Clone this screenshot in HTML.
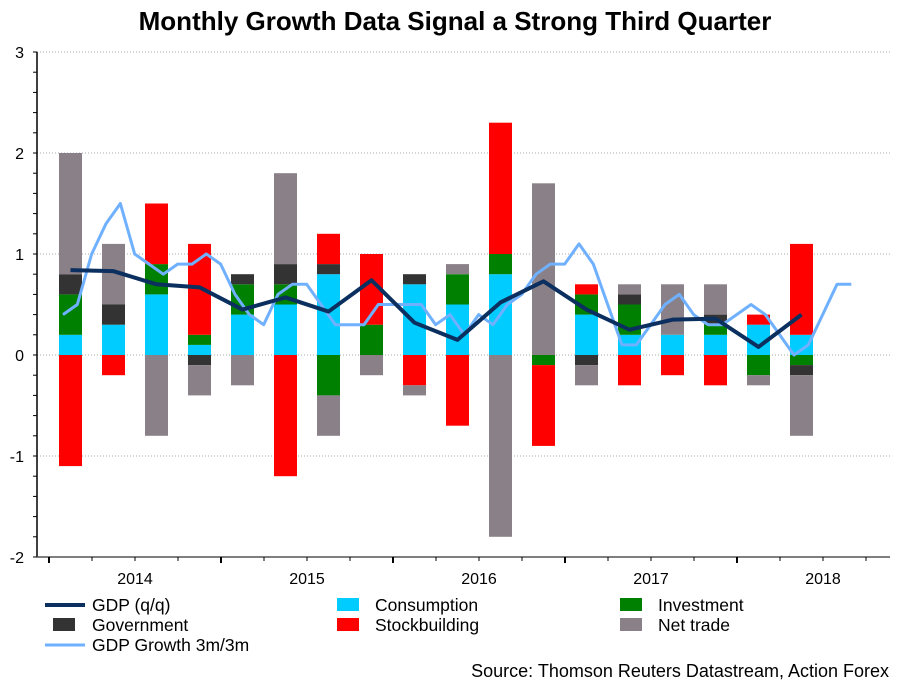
<!DOCTYPE html>
<html><head><meta charset="utf-8"><style>
body{margin:0;background:#fff;}
svg{display:block;font-family:"Liberation Sans",Arial,sans-serif;}
</style></head><body>
<svg id="chart" width="909" height="682" viewBox="0 0 909 682" xmlns="http://www.w3.org/2000/svg">
<text x="455" y="30" text-anchor="middle" font-size="26" font-weight="bold">Monthly Growth Data Signal a Strong Third Quarter</text>
<g id="grid"></g><g id="bars"></g><g id="lines"></g><g id="axes"></g>
<g font-size="17.5">
<line x1="45" y1="605" x2="85" y2="605" stroke="#0b2f5e" stroke-width="4"/>
<text x="92" y="611">GDP (q/q)</text>
<rect x="337" y="598" width="22" height="13" fill="#00ccff"/>
<text x="375" y="611">Consumption</text>
<rect x="620" y="598" width="22" height="13" fill="#008000"/>
<text x="658" y="611">Investment</text>
<rect x="53" y="618" width="22" height="13" fill="#333"/>
<text x="92" y="631">Government</text>
<rect x="337" y="618" width="22" height="13" fill="#ff0000"/>
<text x="375" y="631">Stockbuilding</text>
<rect x="620" y="618" width="22" height="13" fill="#8a8088"/>
<text x="658" y="631">Net trade</text>
<line x1="45" y1="645" x2="85" y2="645" stroke="#6fb0ff" stroke-width="3"/>
<text x="92" y="651">GDP Growth 3m/3m</text>
</g>
<text x="889" y="677" text-anchor="end" font-size="18">Source: Thomson Reuters Datastream, Action Forex</text>
</svg>
<script>
const quarters=["2014Q1","2014Q2","2014Q3","2014Q4","2015Q1","2015Q2","2015Q3","2015Q4","2016Q1","2016Q2","2016Q3","2016Q4","2017Q1","2017Q2","2017Q3","2017Q4","2018Q1","2018Q2"];
const consumption=[0.2,0.3,0.6,0.1,0.4,0.5,0.8,0,0.7,0.5,0.8,0,0.4,0.2,0.2,0.2,0.3,0.2];
const investment=[0.4,0,0.3,0.1,0.3,0.2,-0.4,0.3,0,0.3,0.2,-0.1,0.2,0.3,0,0.1,-0.2,-0.1];
const government=[0.2,0.2,0,-0.1,0.1,0.2,0.1,0,0.1,0,0,0,-0.1,0.1,0,0.1,0,-0.1];
const stockbuilding=[-1.1,-0.2,0.6,0.9,0,-1.2,0.3,0.7,-0.3,-0.7,1.3,-0.8,0.1,-0.3,-0.2,-0.3,0.1,0.9];
const netTrade=[1.2,0.6,-0.8,-0.3,-0.3,0.9,-0.4,-0.2,-0.1,0.1,-1.8,1.7,-0.2,0.1,0.5,0.3,-0.1,-0.6];
const gdpQoQ=[0.84,0.83,0.7,0.67,0.45,0.57,0.43,0.74,0.32,0.15,0.52,0.73,0.45,0.25,0.35,0.36,0.08,0.4];
const gdp3m=[0.4,0.5,1.0,1.3,1.5,1.0,0.9,0.8,0.9,0.9,1.0,0.9,0.6,0.4,0.3,0.6,0.7,0.7,0.5,0.3,0.3,0.3,0.5,0.5,0.5,0.5,0.3,0.4,0.2,0.4,0.3,0.5,0.6,0.8,0.9,0.9,1.1,0.9,0.5,0.1,0.1,0.3,0.5,0.6,0.4,0.3,0.3,0.4,0.5,0.4,0.2,0.0,0.1,0.4,0.7,0.7];
const yTicks=[3,2,1,0,-1,-2];
const years=["2014","2015","2016","2017","2018"];

const NS="http://www.w3.org/2000/svg";
const X0=49,QW=43,PL=37,PR=890;
const y=v=>355-v*101;
const xq=i=>X0+QW*(i+0.5);
const xm=i=>X0+14+i*QW/3;
function mk(tag,attrs,parent){const e=document.createElementNS(NS,tag);for(const k in attrs)e.setAttribute(k,attrs[k]);parent.appendChild(e);return e;}
const grid=document.getElementById('grid'),bars=document.getElementById('bars'),lines=document.getElementById('lines'),axes=document.getElementById('axes');

yTicks.forEach(t=>{
  if(t>-2){const g=mk('line',{x1:PL,x2:PR,y1:y(t),y2:y(t),stroke:'#aaa','stroke-dasharray':'1,2'},grid);
  
  }
  const tx=mk('text',{x:24,y:y(t)+6,'text-anchor':'end','font-size':'16'},axes);tx.textContent=t;
  
  
});
for(let v=-2;v<=3.001;v+=0.2){mk('line',{x1:PL-4,x2:PL,y1:y(v),y2:y(v),stroke:'#000'},axes);}
const ya=mk('line',{x1:PL,x2:PL,y1:y(3),y2:y(-2),stroke:'#000','stroke-width':1.5},axes);


const xa=mk('line',{x1:PL,x2:PR,y1:y(-2),y2:y(-2),stroke:'#555','stroke-width':1.5},axes);


for(let k=0;X0+k*QW<=PR;k++){const xx=X0+k*QW;mk('line',{x1:xx,x2:xx,y1:y(-2),y2:y(-2)+(k%4==0?6:4),stroke:'#000','stroke-width':k%4==0?2:1},axes);}
years.forEach((yr,i)=>{const t=mk('text',{x:X0+QW*4*i+QW*2,y:584,'text-anchor':'middle','font-size':'16'},axes);t.textContent=yr;
  
  });

const series=[[consumption,'#00ccff','consumption'],[investment,'#008000','investment'],[government,'#333333','government'],[stockbuilding,'#ff0000','stockbuilding'],[netTrade,'#8a8088','net-trade']];
quarters.forEach((q,i)=>{
  let pos=0,neg=0;
  series.forEach(([arr,col,nm])=>{
    const v=arr[i];if(!v)return;
    let a,b;if(v>0){a=pos;b=pos+v;pos=b;}else{a=neg;b=neg+v;neg=b;}
    const r=mk('rect',{x:xq(i)-11.5,width:23,y:Math.min(y(a),y(b)),height:Math.abs(y(a)-y(b)),fill:col},bars);
    
    
  });
});
const p1=mk('polyline',{points:gdp3m.map((v,i)=>xm(i)+','+y(v)).join(' '),fill:'none',stroke:'#6fb0ff','stroke-width':3,'stroke-linejoin':'round'},lines);


const p2=mk('polyline',{points:gdpQoQ.map((v,i)=>xq(i)+','+y(v)).join(' '),fill:'none',stroke:'#0b2f5e','stroke-width':4,'stroke-linejoin':'round'},lines);


</script>
</body></html>
